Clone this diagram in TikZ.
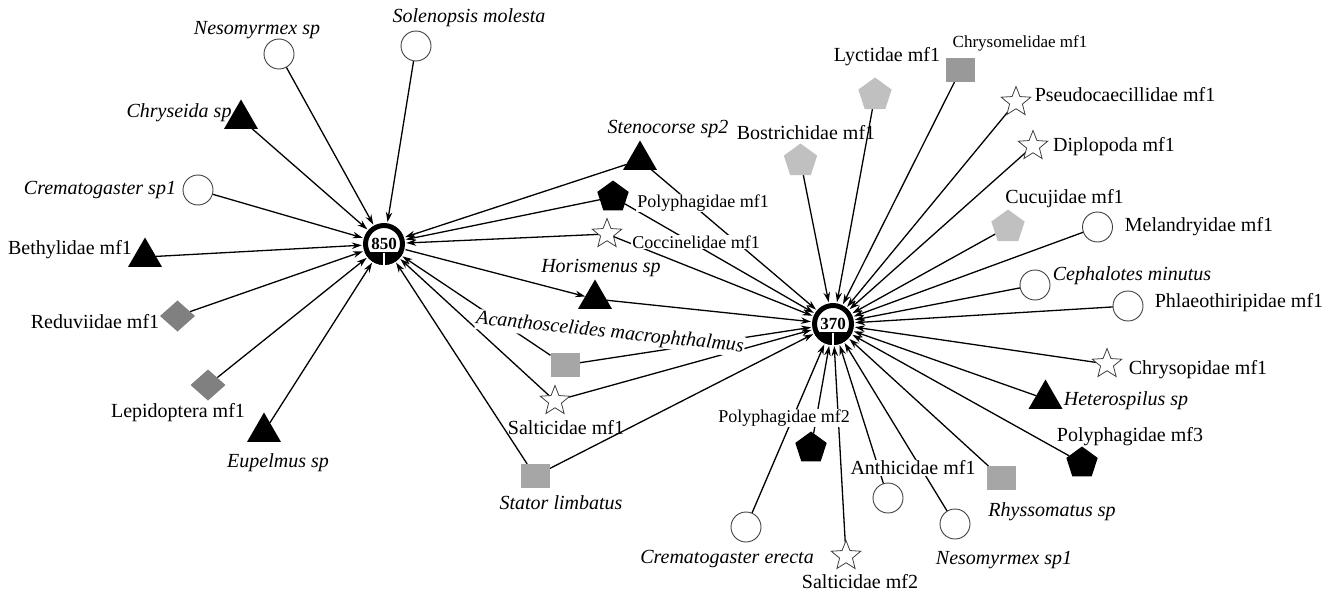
\documentclass[tikz,border=0pt]{standalone}
\usepackage{fontspec}
\setmainfont{Liberation Serif}
\usetikzlibrary{shapes.geometric,arrows.meta}
\pgfdeclarelayer{edges}
\pgfdeclarelayer{labels}
\pgfsetlayers{edges,labels,main}
\definecolor{sqgray}{RGB}{166,166,166}
\definecolor{sqdark}{RGB}{153,153,153}
\definecolor{dmgray}{RGB}{128,128,128}
\definecolor{pgray}{RGB}{192,192,192}
\definecolor{olgray}{RGB}{64,64,64}
\tikzset{
 sp/.style={inner sep=0pt, outer sep=0pt},
 circ/.style={sp, circle, draw=olgray, line width=0.9pt, fill=white, minimum size=30pt},
 tri/.style={sp, regular polygon, regular polygon sides=3, fill=black, minimum size=39pt},
 pentb/.style={sp, regular polygon, regular polygon sides=5, fill=black, minimum size=33pt},
 pentg/.style={sp, regular polygon, regular polygon sides=5, fill=pgray, minimum size=35pt},
 starw/.style={sp, star, star points=5, star point ratio=2.3, draw=olgray, line width=0.8pt, fill=white, minimum size=31pt},
 sq/.style={sp, rectangle, fill=sqgray, minimum width=29pt, minimum height=24pt},
 dia/.style={sp, diamond, fill=dmgray, minimum width=35pt, minimum height=31pt},
 lab/.style={inner sep=1pt, font=\fontsize{20}{20}\selectfont},
 labi/.style={inner sep=1pt, font=\fontsize{20}{20}\selectfont\itshape},
 labs/.style={inner sep=1pt, font=\fontsize{18}{18}\selectfont},
 hide/.style={fill=white},
 e/.style={line width=1.3pt, -{Stealth[length=10pt,width=6.5pt]}},
 hub/.style={circle, inner sep=0pt, minimum size=44pt, font=\bfseries\fontsize{17}{17}\selectfont},
}
\newcommand\hubdeco[1]{%
 \draw[line width=5pt] (#1.center) circle (18.5pt);
 \begin{scope}
  \clip (#1.center) ++(-25,8) rectangle ++(50,16);
  \fill (#1.center) circle (21pt);
 \end{scope}
 \fill[white] (#1.center) ++(-1.3,9) rectangle ++(2.6,13);
}
\begin{document}
\begin{tikzpicture}[x=1pt,y=-1pt]
\useasboundingbox (0,0) rectangle (1340,599);
% hubs
\node[hub] (h850) at (384,244) {850};
\node[hub] (h370) at (833,324) {370};
\hubdeco{h850}
\hubdeco{h370}
% species shapes
\node[circ] (nes) at (279,54) {};
\node[circ] (sol) at (416,46) {};
\node[tri] (chr) at (241,119) {};
\node[circ] (cre1) at (198,190) {};
\node[tri] (bet) at (145,257) {};
\node[dia] (red) at (177.5,316) {};
\node[dia] (lep) at (208,385) {};
\node[tri] (eup) at (264,432) {};
\node[tri] (ste) at (640,160) {};
\node[pentb] (pol1) at (613,197) {};
\node[starw] (coc) at (607,234) {};
\node[tri] (hor) at (595,299) {};
\node[sq] (aca) at (565,365) {};
\node[starw] (sal1) at (555,401) {};
\node[sq] (sta) at (535,476) {};
\node[pentg] (bos) at (800.5,161) {};
\node[pentg] (lyc) at (875,95) {};
\node[sq, fill=sqdark] (chm) at (960.5,70) {};
\node[starw] (pse) at (1016,102) {};
\node[starw] (dip) at (1033,146) {};
\node[pentg] (cuc) at (1008,227) {};
\node[circ] (mel) at (1097.5,227) {};
\node[circ] (cep) at (1035,285) {};
\node[circ] (phl) at (1128,306) {};
\node[starw] (chp) at (1107,364) {};
\node[tri] (het) at (1045.5,399) {};
\node[pentb] (pol3) at (1082,463) {};
\node[sq] (rhy) at (1001.5,478) {};
\node[circ] (ant) at (888,498) {};
\node[circ] (nes1) at (955,524) {};
\node[pentb] (pol2) at (811,448) {};
\node[circ] (cre2) at (746,527) {};
\node[starw] (sal2) at (846,556) {};
% labels
\begin{pgfonlayer}{labels}
\node[labi] (l-nes) at (257,30) {Nesomyrmex sp};
\node[labi] (l-sol) at (469,18) {Solenopsis molesta};
\node[labi] (l-chr) at (179,113) {Chryseida sp};
\node[labi] (l-cre1) at (100,190) {Crematogaster sp1};
\node[lab] (l-bet) at (70,250) {Bethylidae mf1};
\node[lab] (l-red) at (95,322) {Reduviidae mf1};
\node[lab] (l-lep) at (178,413) {Lepidoptera mf1};
\node[labi] (l-eup) at (278,463) {Eupelmus sp};
\node[labi] (l-ste) at (668,129) {Stenocorse sp2};
\node[labs,hide] (l-pol1) at (703,203) {Polyphagidae mf1};
\node[labs,hide] (l-coc) at (696,242) {Coccinelidae mf1};
\node[labi] (l-hor) at (601,268) {Horismenus sp};
\node[labi,hide,rotate=-6] (l-aca) at (610,333) {Acanthoscelides macrophthalmus};
\node[lab] (l-sal1) at (566,428) {Salticidae mf1};
\node[labi] (l-sta) at (561,503) {Stator limbatus};
\node[lab] (l-bos) at (806,133) {Bostrichidae mf1};
\node[lab] (l-lyc) at (887,57) {Lyctidae mf1};
\node[labs, font=\fontsize{17}{17}\selectfont] (l-chm) at (1020,43) {Chrysomelidae mf1};
\node[lab] (l-pse) at (1125,95) {Pseudocaecillidae mf1};
\node[lab] (l-dip) at (1114,147) {Diplopoda mf1};
\node[lab] (l-cuc) at (1064.5,199) {Cucujidae mf1};
\node[lab] (l-mel) at (1199,227) {Melandryidae mf1};
\node[labi] (l-cep) at (1132,276) {Cephalotes minutus};
\node[lab] (l-phl) at (1239,303) {Phlaeothiripidae mf1};
\node[lab] (l-chp) at (1198,370) {Chrysopidae mf1};
\node[labi] (l-het) at (1126,401) {Heterospilus sp};
\node[lab] (l-pol3) at (1130,437) {Polyphagidae mf3};
\node[labs,hide] (l-pol2) at (784,418) {Polyphagidae mf2};
\node[lab,hide] (l-ant) at (913,468) {Anthicidae mf1};
\node[labi] (l-rhy) at (1052,512) {Rhyssomatus sp};
\node[labi] (l-nes1) at (1004,560) {Nesomyrmex sp1};
\node[labi] (l-cre2) at (727,559) {Crematogaster erecta};
\node[lab] (l-sal2) at (860,582) {Salticidae mf2};
\end{pgfonlayer}
% edges
\begin{pgfonlayer}{edges}
\foreach \s in {nes,sol,chr,cre1,bet,red,lep,eup,ste,pol1,coc,aca,sal1,sta}
  \draw[e] (\s) -- (h850);
\draw[e] (h850) -- (hor);
\foreach \s in {ste,pol1,coc,hor,aca,sal1,sta,bos,lyc,chm,pse,dip,cuc,mel,cep,phl,chp,het,pol3,rhy,nes1,ant,sal2,pol2,cre2}
  \draw[e] (\s) -- (h370);
\end{pgfonlayer}
\end{tikzpicture}
\end{document}
